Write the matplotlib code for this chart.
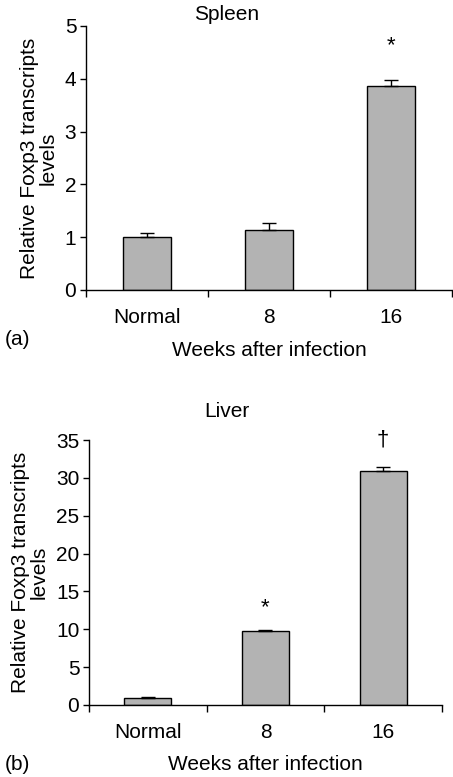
import numpy as np
import matplotlib
matplotlib.use("Agg")
import matplotlib.pyplot as plt

plt.rcParams['font.family'] = ['Liberation Sans', 'DejaVu Sans']

# ----- Dados -----
categorias = ['Normal', '8', '16']

spleen_media = [1.00, 1.14, 3.87]
spleen_erro = [0.08, 0.13, 0.10]
spleen_marca = ['', '', '*']
spleen_marca_y = [0, 0, 4.62]

liver_media = [0.95, 9.75, 30.9]
liver_erro = [0.15, 0.15, 0.5]
liver_marca = ['', '*', '†']
liver_marca_y = [0, 12.9, 35.0]

cor_barra = '#b3b3b3'
fs = 15


def painel(ax, medias, erros, marcas, marcas_y, ymax, passo):
    x = np.arange(len(categorias))
    ax.bar(x, medias, width=0.4, color=cor_barra, edgecolor='black',
           linewidth=1.0, zorder=2)
    ax.errorbar(x, medias, yerr=[np.zeros(len(erros)), erros], fmt='none',
                ecolor='black', elinewidth=1.0, capsize=5, capthick=1.0, zorder=3)
    for xi, m, my in zip(x, marcas, marcas_y):
        if m:
            ax.text(xi, my, m, ha='center', va='center', fontsize=fs + 1,
                    clip_on=False)
    ax.set_xlim(-0.5, 2.5)
    ax.set_ylim(0, ymax)
    ax.set_yticks(np.arange(0, ymax + 0.01, passo))
    ax.set_xticks([-0.5, 0.5, 1.5, 2.5])
    ax.set_xticklabels([])
    ax.set_xticks(x, minor=True)
    ax.set_xticklabels(categorias, minor=True)
    ax.tick_params(axis='x', which='major', length=5, width=1.0, direction='out')
    ax.tick_params(axis='x', which='minor', length=0, pad=13, labelsize=fs)
    ax.tick_params(axis='y', length=4, width=1.0, pad=3, labelsize=fs)
    for s in ['top', 'right']:
        ax.spines[s].set_visible(False)
    for s in ['left', 'bottom']:
        ax.spines[s].set_linewidth(1.0)
    ax.set_ylabel('Relative Foxp3 transcripts\nlevels', fontsize=fs,
                  linespacing=1.0, labelpad=5)


fig = plt.figure(figsize=(4.53, 7.77), dpi=100)
ax1 = fig.add_axes([0.190, 0.6268, 0.808, 0.3398])
ax2 = fig.add_axes([0.1965, 0.0927, 0.779, 0.341])

painel(ax1, spleen_media, spleen_erro, spleen_marca, spleen_marca_y, 5, 1)
painel(ax2, liver_media, liver_erro, liver_marca, liver_marca_y, 35, 5)

fig.text(0.5, 0.981, 'Spleen', ha='center', va='center', fontsize=fs)
fig.text(0.5, 0.470, 'Liver', ha='center', va='center', fontsize=fs)
fig.text(0.594, 1 - 350 / 777, 'Weeks after infection', ha='center',
         va='center', fontsize=fs)
fig.text(0.586, 1 - 765 / 777, 'Weeks after infection', ha='center',
         va='center', fontsize=fs)
fig.text(0.01, 1 - 340 / 777, '(a)', ha='left', va='center', fontsize=fs)
fig.text(0.01, 1 - 765 / 777, '(b)', ha='left', va='center', fontsize=fs)

plt.savefig('out.png', dpi=100)
